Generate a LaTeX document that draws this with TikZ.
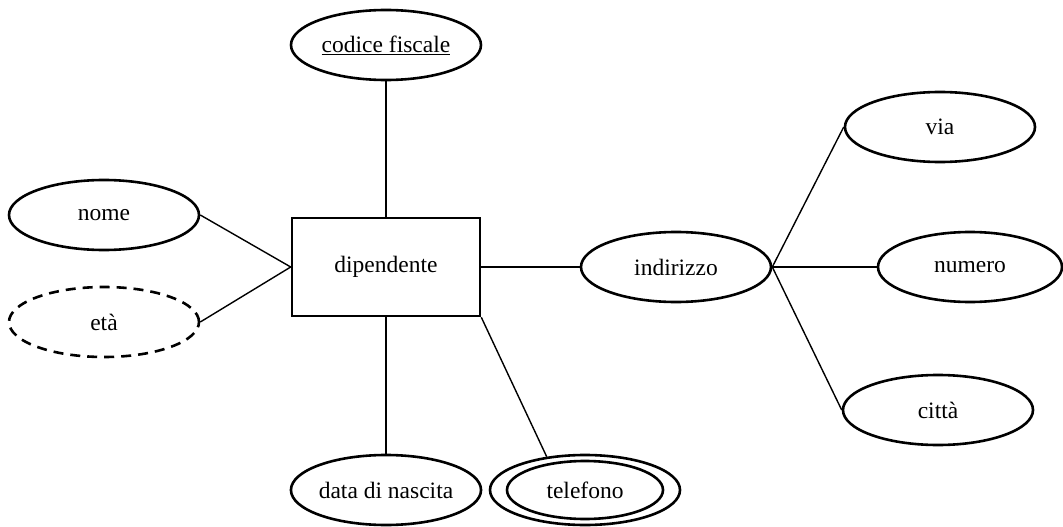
\documentclass[tikz,border=0pt]{standalone}
\usepackage{fontspec}
\setmainfont{Liberation Serif}
\usetikzlibrary{shapes.geometric}
\begin{document}
\begin{tikzpicture}[x=1pt,y=-1pt,
  attr/.style={ellipse,draw,line width=2.6pt,inner sep=0pt,
    minimum width=190pt,minimum height=70pt,font=\fontsize{23.5}{26}\selectfont},
  entity/.style={rectangle,draw,line width=2.6pt,inner sep=0pt,
    minimum width=188pt,minimum height=98pt,font=\fontsize{23.5}{26}\selectfont},
  link/.style={line width=1.4pt},
  derived/.style={dash pattern=on 10pt off 7pt}]
\useasboundingbox (0,0) rectangle (1063,527);

% entity and its attributes
\node[entity] (dip) at (386,267) {dipendente};
\node[attr] (cf) at (386,45) {\underline{codice fiscale}};
\node[attr] (nome) at (104,215) {nome};
\node[attr,derived] (eta) at (104,322) {età};
\node[attr] (data) at (386,490) {data di nascita};
\node[attr] (tel) at (585,490) {telefono};
\draw[line width=2.6pt] (tel.center) ellipse [x radius=78pt, y radius=29pt];
\node[attr] (ind) at (676,267) {indirizzo};

% components of the composite attribute
\node[attr] (via) at (940,127) {via};
\node[attr,minimum width=184pt] (num) at (970,267) {numero};
\node[attr] (citta) at (938,410) {città};

% connectors
\draw[link] (cf) -- (dip);
\draw[link] (nome.east) -- (dip.west);
\draw[link] (eta.east) -- (dip.west);
\draw[link] (dip) -- (data);
\draw[link] (dip.south east) -- (tel.139);
\draw[link] (dip.east) -- (ind.west);
\draw[link] (ind.east) -- (via.west);
\draw[link] (ind.east) -- (num.west);
\draw[link] (ind.east) -- (citta.west);
\end{tikzpicture}
\end{document}
